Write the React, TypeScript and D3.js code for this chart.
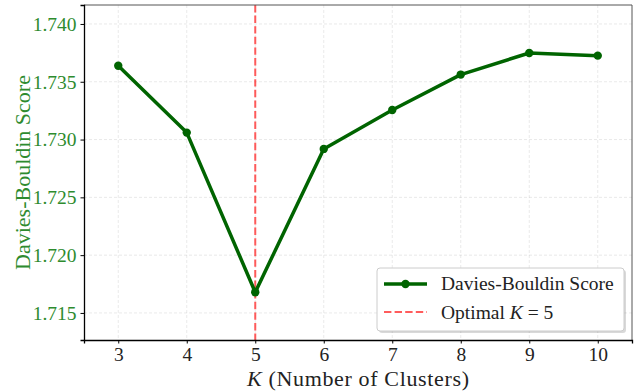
import React, { useEffect, useRef } from 'react';
import * as d3 from 'd3';

const kValues = [3, 4, 5, 6, 7, 8, 9, 10];
const dbScores = [1.73639, 1.7306, 1.71679, 1.72919, 1.73256, 1.73562, 1.73749, 1.73726];
const yTicks = [1.715, 1.72, 1.725, 1.73, 1.735, 1.74];
const optimalK = 5;

const FONT = "'Liberation Serif', 'DejaVu Serif', serif";

export default function App() {
  const ref = useRef<SVGSVGElement>(null);

  useEffect(() => {
    const width = 634;
    const height = 391;
    const m = { left: 84, right: 2, top: 5, bottom: 51 };

    const svg = d3.select(ref.current);
    svg.selectAll('*').remove();

    const x = d3.scaleLinear().domain([2.5, 10.5]).range([m.left, width - m.right]);
    const y = d3.scaleLinear().domain([1.71266, 1.74164]).range([height - m.bottom, m.top]);

    // grid
    const grid = svg.append('g');
    kValues.forEach(k => {
      grid.append('line')
        .attr('x1', x(k)).attr('x2', x(k))
        .attr('y1', m.top).attr('y2', height - m.bottom)
        .attr('stroke', '#b0b0b0').attr('stroke-opacity', 0.35)
        .attr('stroke-dasharray', '3,2').attr('stroke-width', 0.8);
    });
    yTicks.forEach(t => {
      grid.append('line')
        .attr('x1', m.left).attr('x2', width - m.right)
        .attr('y1', y(t)).attr('y2', y(t))
        .attr('stroke', '#b0b0b0').attr('stroke-opacity', 0.35)
        .attr('stroke-dasharray', '3,2').attr('stroke-width', 0.8);
    });

    // optimal K line
    svg.append('line')
      .attr('x1', x(optimalK)).attr('x2', x(optimalK))
      .attr('y1', m.top).attr('y2', height - m.bottom)
      .attr('stroke', '#ff3333').attr('stroke-opacity', 0.8)
      .attr('stroke-width', 2).attr('stroke-dasharray', '7.4,3.2');

    // score line
    const line = d3.line<number>()
      .x((d, i) => x(kValues[i]))
      .y(d => y(d));

    svg.append('path')
      .datum(dbScores)
      .attr('d', line)
      .attr('fill', 'none')
      .attr('stroke', '#006400')
      .attr('stroke-width', 3.5)
      .attr('stroke-linejoin', 'round');

    svg.selectAll('circle.pt')
      .data(dbScores)
      .enter()
      .append('circle')
      .attr('class', 'pt')
      .attr('cx', (d, i) => x(kValues[i]))
      .attr('cy', d => y(d))
      .attr('r', 4.2)
      .attr('fill', '#006400');

    // spines
    svg.append('line').attr('x1', m.left).attr('x2', width - m.right)
      .attr('y1', m.top).attr('y2', m.top).attr('stroke', '#555').attr('stroke-width', 1);
    svg.append('line').attr('x1', width - m.right).attr('x2', width - m.right)
      .attr('y1', m.top).attr('y2', height - m.bottom).attr('stroke', '#555').attr('stroke-width', 1);

    // axes
    const xAxis = svg.append('g')
      .attr('transform', `translate(0,${height - m.bottom})`)
      .call(d3.axisBottom(x).tickValues(kValues).tickSize(3.5).tickPadding(4).tickFormat(d3.format('d')));
    xAxis.select('.domain').attr('stroke', '#000').attr('stroke-width', 1.3);
    xAxis.selectAll('.tick line').attr('stroke', '#000');
    xAxis.selectAll('text').attr('font-family', FONT).attr('font-size', 19.5).attr('fill', '#222');

    const yAxis = svg.append('g')
      .attr('transform', `translate(${m.left},0)`)
      .call(d3.axisLeft(y).tickValues(yTicks).tickSize(3.5).tickPadding(4).tickFormat(d3.format('.3f')));
    yAxis.select('.domain').attr('stroke', '#000').attr('stroke-width', 1.3);
    yAxis.selectAll('.tick line').attr('stroke', '#000');
    yAxis.selectAll('text').attr('font-family', FONT).attr('font-size', 19.5).attr('fill', '#2e8b2e');

    // axis labels
    svg.append('text')
      .attr('transform', `translate(30,${(m.top + height - m.bottom) / 2}) rotate(-90)`)
      .attr('text-anchor', 'middle')
      .attr('font-family', FONT).attr('font-size', 22)
      .attr('fill', '#2e8b2e')
      .text('Davies-Bouldin Score');

    const xl = svg.append('text')
      .attr('x', (m.left + width - m.right) / 2)
      .attr('y', 386)
      .attr('text-anchor', 'middle')
      .attr('font-family', FONT).attr('font-size', 22)
      .attr('textLength', 222).attr('lengthAdjust', 'spacing')
      .attr('fill', '#222');
    xl.append('tspan').attr('font-style', 'italic').text('K');
    xl.append('tspan').text(' (Number of Clusters)');

    // legend
    const lg = svg.append('g').attr('transform', 'translate(377,268)');
    lg.append('rect')
      .attr('x', 2).attr('y', 2)
      .attr('width', 247).attr('height', 63).attr('rx', 3)
      .attr('fill', '#000').attr('fill-opacity', 0.15);
    lg.append('rect')
      .attr('width', 247).attr('height', 63).attr('rx', 3)
      .attr('fill', 'white')
      .attr('stroke', '#ccc');
    lg.append('line').attr('x1', 7).attr('x2', 50).attr('y1', 16).attr('y2', 16)
      .attr('stroke', '#006400').attr('stroke-width', 3.5);
    lg.append('circle').attr('cx', 28.5).attr('cy', 16).attr('r', 4.2).attr('fill', '#006400');
    lg.append('text').attr('x', 64).attr('y', 22)
      .attr('font-family', FONT).attr('font-size', 19.5).attr('fill', '#222')
      .text('Davies-Bouldin Score');
    lg.append('line').attr('x1', 7).attr('x2', 50).attr('y1', 44).attr('y2', 44)
      .attr('stroke', '#ff3333').attr('stroke-opacity', 0.8)
      .attr('stroke-width', 2).attr('stroke-dasharray', '7.4,3.2');
    const t2 = lg.append('text').attr('x', 64).attr('y', 51)
      .attr('font-family', FONT).attr('font-size', 19.5).attr('fill', '#222');
    t2.append('tspan').text('Optimal ');
    t2.append('tspan').attr('font-style', 'italic').text('K');
    t2.append('tspan').text(' = 5');
  }, []);

  return (
    <svg ref={ref} width={634} height={391}
      style={{ position: 'absolute', left: 0, top: 0, background: 'white' }} />
  );
}
